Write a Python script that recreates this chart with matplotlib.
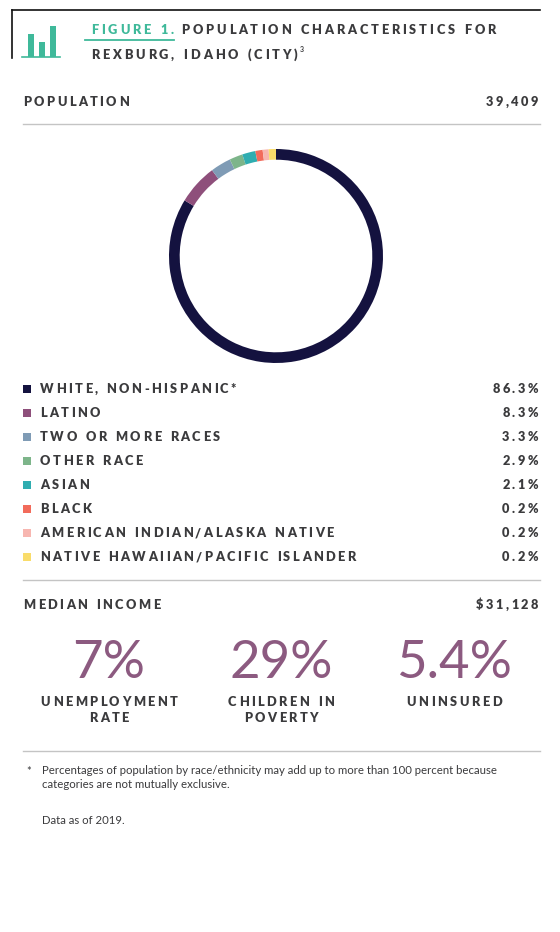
import matplotlib
matplotlib.use('Agg')
import matplotlib.pyplot as plt
from matplotlib.font_manager import FontProperties
from matplotlib.textpath import text_to_path

# data
categories = ['WHITE, NON-HISPANIC*', 'LATINO', 'TWO OR MORE RACES', 'OTHER RACE', 'ASIAN',
              'BLACK', 'AMERICAN INDIAN/ALASKA NATIVE', 'NATIVE HAWAIIAN/PACIFIC ISLANDER']
pct_labels = ['86.3%', '8.3%', '3.3%', '2.9%', '2.1%', '0.2%', '0.2%', '0.2%']
# arc shares as drawn in the ring (small groups are drawn wider than their value)
arc_shares = [83.7, 6.1, 3.1, 2.0, 2.0, 1.1, 0.9, 1.1]
colors = ['#14123f', '#8e4f7b', '#7f9bb5', '#7db58a', '#2fadb0', '#f26b5b', '#f7b6b0', '#f9dc6a']
population = '39,409'
median_income = '$31,128'
stat_values = ['7%', '29%', '5.4%']
stat_labels = [['UNEMPLOYMENT', 'RATE'], ['CHILDREN IN', 'POVERTY'], ['UNINSURED']]

DARK = '#3b3b3d'
TEAL = '#3fb99a'
PURPLE = '#8c5a80'
GRID = '#c4c4c4'

fig = plt.figure(figsize=(5.6, 9.32), dpi=100)
ax = fig.add_axes([0, 0, 1, 1])
ax.set_xlim(0, 560)
ax.set_ylim(932, 0)
ax.axis('off')

bold = FontProperties(family=['Lato', 'DejaVu Sans'], weight='heavy', size=9.2)


def width_px(s, fp):
    w, h, d = text_to_path.get_text_width_height_descent(s, fp, ismath=False)
    return w * 100 / 72


def spaced(x, y, s, fp=bold, color=DARK, ha='left', sp=2.4):
    widths = [width_px(c, fp) if c != ' ' else width_px('n', fp) * 0.55 for c in s]
    total = sum(widths) + sp * (len(s) - 1)
    if ha == 'right':
        x = x - total
    elif ha == 'center':
        x = x - total / 2
    for c, w in zip(s, widths):
        ax.text(x, y, c, fontproperties=fp, color=color, va='center', ha='left')
        x += w + sp
    return x


# header frame and icon
ax.plot([12, 540], [10, 10], color='#111111', lw=1.2)
ax.plot([12, 12], [10, 58], color='#111111', lw=1.2)
for bx, top in [(28, 34), (39, 42), (50, 26)]:
    ax.add_patch(plt.Rectangle((bx, top), 6, 57 - top, color=TEAL, lw=0))
ax.plot([22, 60], [57, 57], color=TEAL, lw=1.2)

xe = spaced(91, 30, 'FIGURE 1.', color=TEAL, sp=2.8)
ax.plot([85, xe - 2], [39.5, 39.5], color=TEAL, lw=1.3)
spaced(xe + 5, 30, 'POPULATION CHARACTERISTICS FOR', sp=2.8)
xe = spaced(91, 55, 'REXBURG, IDAHO (CITY)', sp=2.8)
ax.text(xe, 50, '3', fontproperties=FontProperties(family='Lato', weight='bold', size=5), color=DARK, va='center')

spaced(23, 102, 'POPULATION')
spaced(538, 102, population, ha='right')
ax.plot([23, 540], [124, 124], color=GRID, lw=1)

# donut
dax = fig.add_axes([(276 - 107) / 560, 1 - (256 + 107) / 932, 214 / 560, 214 / 932])
dax.pie(arc_shares, colors=colors, startangle=90, counterclock=False,
        wedgeprops=dict(width=0.1, linewidth=0))
dax.set_xlim(-1, 1)
dax.set_ylim(-1, 1)
dax.set_aspect('equal')

# legend rows
for i, (cat, val, col) in enumerate(zip(categories, pct_labels, colors)):
    y = 389 + 24 * i
    ax.add_patch(plt.Rectangle((23, y - 4), 8, 8, color=col, lw=0))
    spaced(40, y, cat)
    spaced(538, y, val, ha='right')
ax.plot([23, 540], [580, 580], color=GRID, lw=1)

spaced(23, 605, 'MEDIAN INCOME')
spaced(538, 605, median_income, ha='right')

centers = [109, 281, 454]
big = FontProperties(family=['Lato', 'DejaVu Sans'], weight='normal', size=38)
for cx, v, labs in zip(centers, stat_values, stat_labels):
    ax.text(cx, 664, v, fontproperties=big, color=PURPLE, ha='center', va='center')
    for j, lab in enumerate(labs):
        spaced(cx, 702 + 16 * j, lab, ha='center')
ax.plot([23, 540], [751, 751], color=GRID, lw=1)

reg = FontProperties(family=['Lato', 'DejaVu Sans'], size=8.2)
ax.text(26, 772, '*', fontproperties=reg, color=DARK, va='center')
ax.text(42, 771, 'Percentages of population by race/ethnicity may add up to more than 100 percent because',
        fontproperties=reg, color=DARK, va='center')
ax.text(42, 785, 'categories are not mutually exclusive.', fontproperties=reg, color=DARK, va='center')
ax.text(42, 820, 'Data as of 2019.', fontproperties=reg, color=DARK, va='center')

fig.savefig('out.png', dpi=100, facecolor='white')
